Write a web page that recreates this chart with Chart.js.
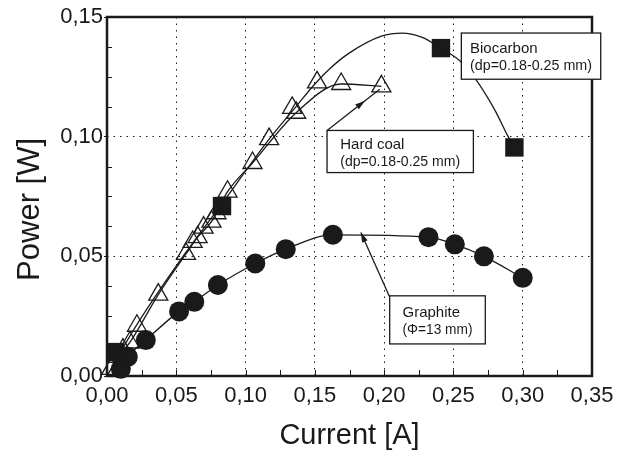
<!DOCTYPE html>
<html>
<head>
<meta charset="utf-8">
<script src="https://cdn.jsdelivr.net/npm/chart.js@4"></script>
<style>
  html, body { margin: 0; padding: 0; background: #fff; }
  #wrap { width: 617px; height: 456px; }
</style>
</head>
<body>
<div id="wrap"><canvas id="powerChart" width="617" height="456"></canvas></div>
<script>
// values
var graphiteX = [0.010, 0.015, 0.028, 0.052, 0.063, 0.080, 0.107, 0.129, 0.163, 0.232, 0.251, 0.272, 0.300];
var graphiteY = [0.003, 0.008, 0.015, 0.027, 0.031, 0.038, 0.047, 0.053, 0.059, 0.058, 0.055, 0.050, 0.041];

// hard coal, lower curve (with line)
var coalX = [0.003, 0.008, 0.0165, 0.037, 0.057, 0.0654, 0.0754, 0.087, 0.105, 0.1365, 0.169, 0.198];
var coalY = [0.003, 0.008, 0.014, 0.034, 0.051, 0.058, 0.0645, 0.077, 0.089, 0.110, 0.122, 0.121];
// hard coal markers lying on the upper curve
var coalUpX = [0.0115, 0.0216, 0.0618, 0.0697, 0.079, 0.117, 0.1336, 0.1516];
var coalUpY = [0.011, 0.021, 0.056, 0.062, 0.068, 0.099, 0.112, 0.1227];

// biocarbon markers and traced curve
var bioX = [0.006, 0.083, 0.241, 0.294];
var bioY = [0.010, 0.071, 0.137, 0.0955];
var bioCurveX = [0, 0.02, 0.05, 0.083, 0.117, 0.137, 0.150, 0.160, 0.175, 0.198, 0.213, 0.227, 0.241, 0.256, 0.266, 0.280, 0.2895, 0.294];
var bioCurveY = [0, 0.020, 0.046, 0.072, 0.099, 0.113, 0.122, 0.128, 0.135, 0.142, 0.1433, 0.1416, 0.137, 0.131, 0.124, 0.111, 0.100, 0.0955];

var xMin = 0, xMax = 0.35, xStep = 0.05;
var yMin = 0, yMax = 0.15, yStep = 0.05;

// text boxes (corners in data units) and arrows
var notes = [
    { lines: ['Biocarbon', '(dp=0.18-0.25 mm)'], x0: 0.2557, x1: 0.3563, y0: 0.1433, y1: 0.124, textW: 122 },
    { lines: ['Hard coal', '(dp=0.18-0.25 mm)'], x0: 0.1588, x1: 0.2644, y0: 0.1026, y1: 0.085, textW: 120 },
    { lines: ['Graphite', '(\u03A6=13 mm)'], x0: 0.2040, x1: 0.2730, y0: 0.0335, y1: 0.0134, textW: 70 }
];
var arrows = [
    { fx: 0.1588, fy: 0.1026, tx: 0.1968, ty: 0.1198, head: 0.72 },
    { fx: 0.2040, fy: 0.0330, tx: 0.1832, ty: 0.0600, head: 1.0 }
];

function pts(xs, ys) {
    return xs.map(function (v, i) { return { x: v, y: ys[i] }; });
}
function comma(v) {
    return Number(v).toFixed(2).replace('.', ',');
}

var ink = '#1a1a1a';

const framePlugin = {
    id: 'frame',
    beforeDatasetsDraw(chart) {
        const ctx = chart.ctx, a = chart.chartArea;
        const x = chart.scales.x, y = chart.scales.y;
        ctx.save();
        ctx.strokeStyle = ink;
        ctx.lineWidth = 1;
        ctx.beginPath();
        for (let k = 1; k < 14; k++) {
            const px = Math.round(x.getPixelForValue(k * 0.025)) + 0.5;
            ctx.moveTo(px, a.bottom);
            ctx.lineTo(px, a.bottom - 6);
        }
        for (let k = 1; k < 12; k++) {
            if (k % 4 === 0) continue;
            const py = Math.round(y.getPixelForValue(k * 0.0125)) + 0.5;
            ctx.moveTo(a.left, py);
            ctx.lineTo(a.left + 5, py);
        }
        ctx.stroke();
        ctx.lineWidth = 2.5;
        ctx.strokeRect(a.left, a.top, a.right - a.left, a.bottom - a.top);
        ctx.restore();
    },
    afterDatasetsDraw(chart) {
        const ctx = chart.ctx;
        const x = chart.scales.x, y = chart.scales.y;
        ctx.save();
        ctx.strokeStyle = ink;
        ctx.fillStyle = ink;
        ctx.lineWidth = 1.3;
        arrows.forEach(function (ar) {
            const x1 = x.getPixelForValue(ar.fx), y1 = y.getPixelForValue(ar.fy);
            const x2 = x.getPixelForValue(ar.tx), y2 = y.getPixelForValue(ar.ty);
            ctx.beginPath();
            ctx.moveTo(x1, y1);
            ctx.lineTo(x2, y2);
            ctx.stroke();
            const hx = x1 + (x2 - x1) * ar.head, hy = y1 + (y2 - y1) * ar.head;
            const ang = Math.atan2(y2 - y1, x2 - x1);
            ctx.beginPath();
            ctx.moveTo(hx, hy);
            ctx.lineTo(hx - 10 * Math.cos(ang) + 3 * Math.sin(ang), hy - 10 * Math.sin(ang) - 3 * Math.cos(ang));
            ctx.lineTo(hx - 10 * Math.cos(ang) - 3 * Math.sin(ang), hy - 10 * Math.sin(ang) + 3 * Math.cos(ang));
            ctx.closePath();
            ctx.fill();
        });
        notes.forEach(function (n) {
            const l = x.getPixelForValue(n.x0), r = x.getPixelForValue(n.x1);
            const t = y.getPixelForValue(n.y0), b = y.getPixelForValue(n.y1);
            ctx.fillStyle = '#fff';
            ctx.fillRect(l, t, r - l, b - t);
            ctx.lineWidth = 1.3;
            ctx.strokeRect(l, t, r - l, b - t);
            ctx.fillStyle = ink;
            ctx.font = '15px "Liberation Sans Narrow", "Liberation Sans", Arial, sans-serif';
            ctx.textBaseline = 'alphabetic';
            ctx.textAlign = 'left';
            const mid = (t + b) / 2;
            ctx.fillText(n.lines[0], l + (r - l - n.textW) / 2, mid - 3, n.textW);
            ctx.fillText(n.lines[1], l + (r - l - n.textW) / 2, mid + 14, n.textW);
        });
        ctx.restore();
    }
};

const powerChart = new Chart(document.getElementById('powerChart'), {
    type: 'scatter',
    data: {
        datasets: [{
            label: 'Biocarbon curve',
            data: pts(bioCurveX, bioCurveY),
            showLine: true,
            borderColor: ink,
            borderWidth: 1.3,
            pointRadius: 0,
            cubicInterpolationMode: 'monotone'
        }, {
            label: 'Hard coal',
            data: pts(coalX, coalY),
            showLine: true,
            borderColor: ink,
            borderWidth: 1.3,
            backgroundColor: 'rgba(0,0,0,0)',
            pointStyle: 'triangle',
            pointRadius: 11,
            pointBorderWidth: 1.3,
            cubicInterpolationMode: 'monotone',
            clip: false
        }, {
            label: 'Hard coal (upper)',
            data: pts(coalUpX, coalUpY),
            showLine: false,
            borderColor: ink,
            backgroundColor: 'rgba(0,0,0,0)',
            pointStyle: 'triangle',
            pointRadius: 11,
            pointBorderWidth: 1.3,
            clip: false
        }, {
            label: 'Biocarbon',
            data: pts(bioX, bioY),
            showLine: false,
            borderColor: ink,
            backgroundColor: ink,
            pointStyle: 'rect',
            pointRadius: 13,
            pointBorderWidth: 0,
            clip: false
        }, {
            label: 'Graphite',
            data: pts(graphiteX, graphiteY),
            showLine: true,
            borderColor: ink,
            borderWidth: 1.3,
            backgroundColor: ink,
            pointStyle: 'circle',
            pointRadius: 10,
            pointBorderWidth: 0,
            cubicInterpolationMode: 'monotone',
            clip: false
        }]
    },
    options: {
        responsive: false,
        animation: false,
        layout: { padding: { left: 10, top: 17, right: 25, bottom: 3 } },
        plugins: {
            legend: { display: false },
            tooltip: { enabled: false }
        },
        scales: {
            x: {
                type: 'linear',
                min: xMin,
                max: xMax,
                afterFit: function (s) { s.height = 77; s.paddingRight = 0; s.paddingLeft = 0; },
                border: { display: false, dash: [1.5, 5] },
                grid: { color: ink, lineWidth: 1, drawTicks: false },
                ticks: {
                    stepSize: xStep,
                    padding: 7,
                    color: ink,
                    font: { family: '"Liberation Sans", Arial, sans-serif', size: 22 },
                    callback: function (v) { return comma(v); }
                },
                title: {
                    display: true,
                    text: 'Current [A]',
                    color: ink,
                    padding: 0,
                    font: { family: '"Liberation Sans", Arial, sans-serif', size: 29 }
                }
            },
            y: {
                type: 'linear',
                min: yMin,
                max: yMax,
                afterFit: function (s) { s.width = 97; s.paddingTop = 0; s.paddingBottom = 0; },
                border: { display: false, dash: [1.5, 5] },
                grid: { color: ink, lineWidth: 1, drawTicks: true, tickLength: 3, tickBorderDash: [] },
                ticks: {
                    stepSize: yStep,
                    padding: 1,
                    color: ink,
                    font: { family: '"Liberation Sans", Arial, sans-serif', size: 22 },
                    callback: function (v) { return comma(v); }
                },
                title: {
                    display: true,
                    text: 'Power [W]   ',
                    color: ink,
                    padding: { top: 2, bottom: 0 },
                    font: { family: '"Liberation Sans", Arial, sans-serif', size: 31 }
                }
            }
        }
    },
    plugins: [framePlugin]
});
</script>
</body>
</html>
